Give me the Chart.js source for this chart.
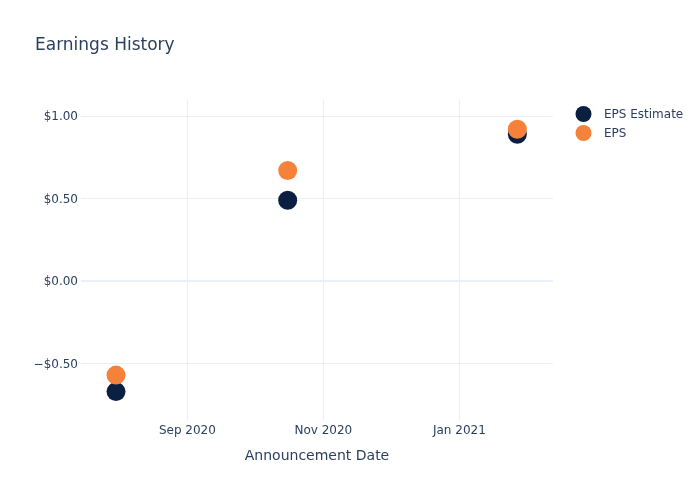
<!DOCTYPE html>
<html>
<head>
<meta charset="utf-8">
<script src="https://cdn.jsdelivr.net/npm/chart.js@4/dist/chart.umd.min.js"></script>
<style>
  body { margin: 0; background: #fff; }
  #wrap { width: 700px; height: 500px; }
</style>
</head>
<body>
<div id="wrap"><canvas id="chart" width="700" height="500"></canvas></div>
<script>
// earnings data
var dates = ["2020-07-31", "2020-10-16", "2021-01-27"];
var eps_estimate = [-0.67, 0.49, 0.89];
var eps_actual = [-0.57, 0.67, 0.92];

var x_tick_dates = ["2020-09-01", "2020-11-01", "2021-01-01"];
var x_tick_labels = ["Sep 2020", "Nov 2020", "Jan 2021"];
var y_ticks = [-0.5, 0, 0.5, 1];

var X_MIN = Date.parse("2020-07-15T07:00:00Z");
var X_MAX = Date.parse("2021-02-12T00:00:00Z");
var Y_MIN = -0.842;
var Y_MAX = 1.097;

var TEXT = "#2a3f5f";
var GRID = "#ebf0f8";
var NAVY = "#0b1f41";
var ORANGE = "#f5813a";
var FONT = "'DejaVu Sans', sans-serif";

function points(values) {
  return values.map((v, i) => ({ x: Date.parse(dates[i]), y: v }));
}

function money(v) {
  var s = "$" + Math.abs(v).toFixed(2);
  return v < 0 ? "\u2212" + s : s;
}

//title and legend drawn by hand so they sit where plotly put them
var decor = {
  id: 'decor',
  afterDraw(chart) {
    var ctx = chart.ctx;
    ctx.save();
    ctx.fillStyle = TEXT;
    ctx.font = "17px " + FONT;
    ctx.textAlign = "left";
    ctx.textBaseline = "alphabetic";
    ctx.fillText("Earnings History", 35, 50);

    var items = chart.data.datasets.slice().sort((a, b) => a.legendPos - b.legendPos);
    items.forEach((ds, i) => {
      var y = 114 + i * 19;
      ctx.beginPath();
      ctx.arc(583.5, y, 8, 0, Math.PI * 2);
      ctx.fillStyle = ds.backgroundColor;
      ctx.fill();
      ctx.fillStyle = TEXT;
      ctx.font = "12px " + FONT;
      ctx.textBaseline = "middle";
      ctx.fillText(ds.label, 604, y + 1);
    });
    ctx.restore();
  }
};

var ctx = document.getElementById('chart').getContext('2d');
var chart = new Chart(ctx, {
  type: 'scatter',
  data: {
    datasets: [
      {
        label: "EPS Estimate",
        data: points(eps_estimate),
        backgroundColor: NAVY,
        borderWidth: 0,
        pointRadius: 9.5,
        pointHoverRadius: 9.5,
        order: 1,
        legendPos: 0
      },
      {
        label: "EPS",
        data: points(eps_actual),
        backgroundColor: ORANGE,
        borderWidth: 0,
        pointRadius: 9.5,
        pointHoverRadius: 9.5,
        order: 0,
        legendPos: 1
      }
    ]
  },
  options: {
    responsive: false,
    animation: false,
    layout: { padding: { left: 0, right: 147, top: 100, bottom: 0 } },
    plugins: {
      legend: { display: false },
      title: { display: false },
      tooltip: { enabled: false }
    },
    scales: {
      x: {
        type: 'linear',
        min: X_MIN,
        max: X_MAX,
        afterBuildTicks: function(scale) {
          scale.ticks = x_tick_dates.map(d => ({ value: Date.parse(d) }));
        },
        afterFit: function(scale) { scale.height = 80; },
        ticks: {
          color: TEXT,
          font: { family: FONT, size: 12 },
          padding: 4,
          maxRotation: 0,
          autoSkip: false,
          callback: function(v, i) { return x_tick_labels[i]; }
        },
        grid: { color: GRID, lineWidth: 1, drawTicks: false },
        border: { display: false },
        title: {
          display: true,
          text: "Announcement Date",
          color: TEXT,
          font: { family: FONT, size: 14 },
          padding: { top: 0, bottom: 35 }
        }
      },
      y: {
        min: Y_MIN,
        max: Y_MAX,
        afterBuildTicks: function(scale) {
          scale.ticks = y_ticks.map(v => ({ value: v }));
        },
        afterFit: function(scale) { scale.width = 81; },
        ticks: {
          color: TEXT,
          font: { family: FONT, size: 12 },
          padding: 3,
          labelOffset: 1,
          callback: function(v) { return money(v); }
        },
        grid: {
          color: GRID,
          drawTicks: false,
          lineWidth: c => (c.tick && c.tick.value === 0 ? 2 : 1)
        },
        border: { display: false }
      }
    }
  },
  plugins: [decor]
});
</script>
</body>
</html>
